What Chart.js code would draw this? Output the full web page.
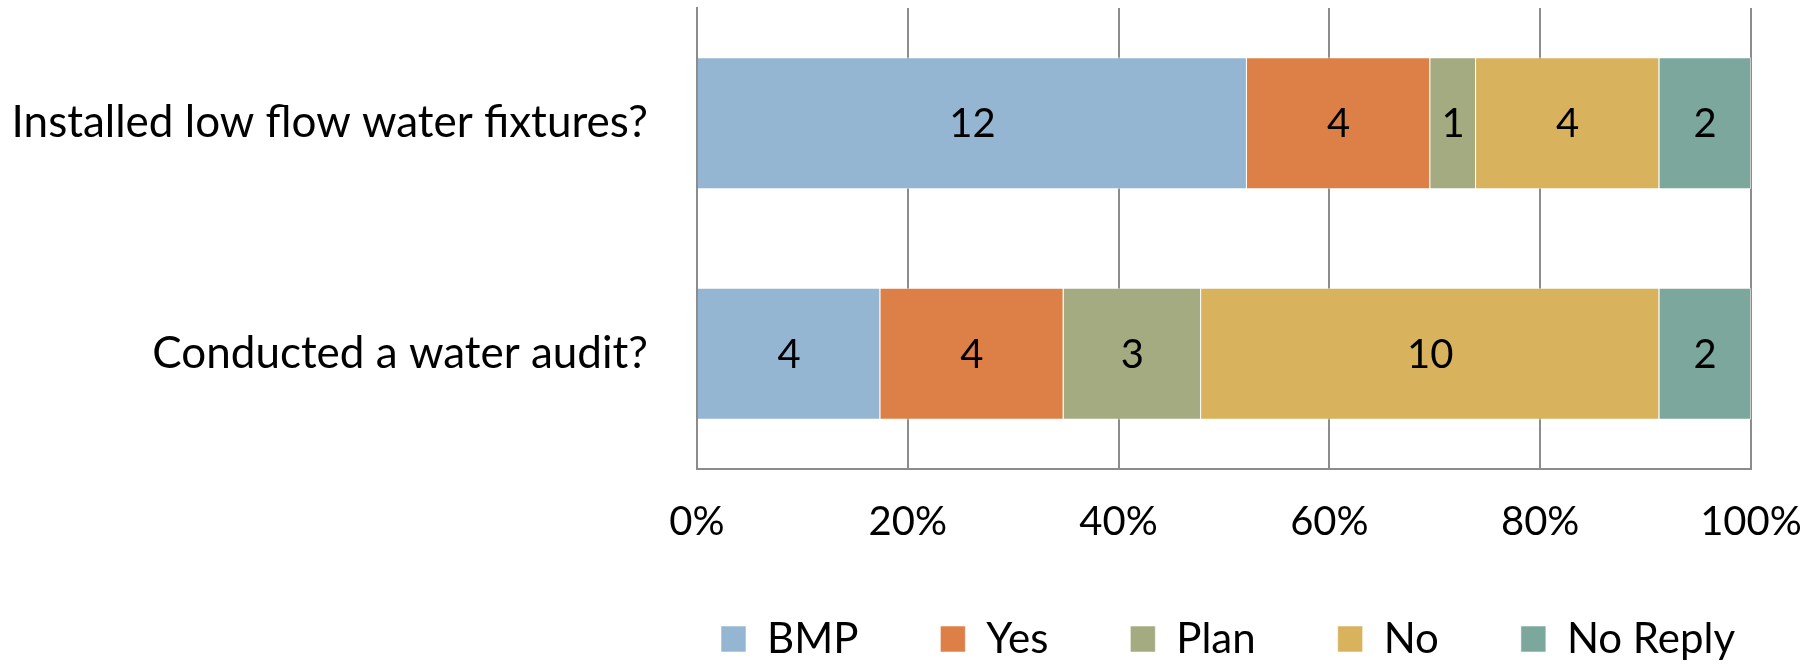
<!DOCTYPE html>
<html>
<head>
<meta charset="utf-8">
<script src="https://cdn.jsdelivr.net/npm/chart.js@4.4.1/dist/chart.umd.min.js"></script>
<style>
html, body { margin: 0; padding: 0; background: #ffffff; }
#wrap { width: 1804px; height: 664px; position: relative; }
</style>
</head>
<body>
<div id="wrap"><canvas id="c" width="1804" height="664"></canvas></div>
<script>
// ---- data ----
const categories = ['Installed low flow water fixtures?', 'Conducted a water audit?'];
const seriesNames = ['BMP', 'Yes', 'Plan', 'No', 'No Reply'];
const bmpCounts = [12, 4];
const yesCounts = [4, 4];
const planCounts = [1, 3];
const noCounts = [4, 10];
const noReplyCounts = [2, 2];
const tickValues = [0, 20, 40, 60, 80, 100];
const tickLabels = ['0%', '20%', '40%', '60%', '80%', '100%'];

// ---- styles ----
const seriesColors = ['#94B6D2', '#DD8047', '#A5AB81', '#D8B25C', '#7BA79D'];
const FONT = 'Lato';
const FS = 40;
const CAT_FS = 44;
const LEG_FS = 42;
const LEGEND_PAD = 82;

const allCounts = [bmpCounts, yesCounts, planCounts, noCounts, noReplyCounts];
const totals = categories.map((_, i) => allCounts.reduce((s, arr) => s + arr[i], 0));

const datasets = allCounts.map((counts, k) => ({
  label: seriesNames[k],
  data: counts.map((c, i) => c / totals[i] * 100),
  counts: counts,
  backgroundColor: seriesColors[k],
  borderColor: 'rgba(255,255,255,0.55)',
  borderWidth: 1,
  categoryPercentage: 1.0,
  barPercentage: 0.573
}));

const countLabels = {
  id: 'countLabels',
  afterDatasetsDraw(chart) {
    const ctx = chart.ctx;
    ctx.save();
    ctx.font = FS + 'px ' + FONT;
    ctx.fillStyle = '#000000';
    ctx.textAlign = 'center';
    ctx.textBaseline = 'middle';
    chart.data.datasets.forEach((ds, di) => {
      const meta = chart.getDatasetMeta(di);
      meta.data.forEach((el, i) => {
        ctx.fillText(String(ds.counts[i]), (el.x + el.base) / 2, el.y + 1);
      });
    });
    ctx.restore();
  }
};

// place the legend row under the plot area like the original
const legendPlacer = {
  id: 'legendPlacer',
  afterLayout(chart) {
    const lg = chart.legend;
    if (!lg) return;
    lg.left = 721 - LEGEND_PAD;
    lg.right = 2200;
    lg.top = 639 - LEG_FS / 2 - LEGEND_PAD;
    lg.bottom = 664;
    lg.width = lg.right - lg.left;
    lg.height = lg.bottom - lg.top;
  }
};

new Chart(document.getElementById('c'), {
  type: 'bar',
  data: { labels: categories, datasets: datasets },
  plugins: [countLabels, legendPlacer],
  options: {
    indexAxis: 'y',
    responsive: false,
    devicePixelRatio: 1,
    animation: false,
    layout: { padding: { left: 0, top: 8, right: 0, bottom: 0 } },
    plugins: {
      tooltip: { enabled: false },
      legend: {
        position: 'bottom',
        align: 'start',
        maxHeight: 115,
        labels: {
          boxWidth: 25,
          boxHeight: 26,
          padding: LEGEND_PAD,
          color: '#000000',
          font: { family: FONT, size: LEG_FS }
        }
      }
    },
    scales: {
      x: {
        stacked: true,
        min: 0,
        max: 100,
        afterBuildTicks(scale) { scale.ticks = tickValues.map(v => ({ value: v })); },
        ticks: {
          padding: 29,
          color: '#000000',
          font: { family: FONT, size: FS },
          callback: (v) => tickLabels[tickValues.indexOf(v)]
        },
        grid: { color: '#8C8C8C', lineWidth: 2, drawTicks: false },
        border: { color: '#8C8C8C', width: 2 },
        afterFit(scale) { scale.height = 80; scale.paddingRight = 53; scale.paddingLeft = 0; }
      },
      y: {
        stacked: true,
        ticks: {
          padding: 49,
          color: '#000000',
          font: { family: FONT, size: CAT_FS }
        },
        grid: { display: false, drawTicks: false },
        border: { color: '#8C8C8C', width: 2 },
        afterFit(scale) { scale.width = 697; scale.paddingTop = 0; scale.paddingBottom = 0; }
      }
    }
  }
});
</script>
</body>
</html>
